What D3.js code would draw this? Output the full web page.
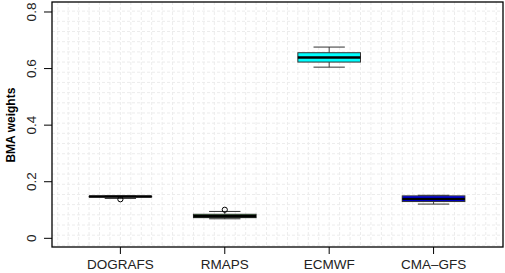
<!DOCTYPE html>
<html>
<head>
<meta charset="utf-8">
<script src="https://cdn.jsdelivr.net/npm/d3@7"></script>
<style>
  body { margin: 0; background: #fff; }
  text { font-family: "Liberation Sans", Arial, sans-serif; }
</style>
</head>
<body>
<div id="chart"></div>
<script>
var models = ["DOGRAFS", "RMAPS", "ECMWF", "CMA\u2013GFS"];
var colors = ["#ff0000", "#008000", "#00ffff", "#0000ff"];
var whiskerLow = [0.141, 0.069, 0.605, 0.121];
var q1 = [0.1465, 0.073, 0.623, 0.130];
var median = [0.1475, 0.078, 0.639, 0.139];
var q3 = [0.1485, 0.085, 0.656, 0.150];
var whiskerHigh = [0.149, 0.095, 0.676, 0.152];
var outliers = [[0.138], [0.101], [], []];
var yTicks = [0, 0.2, 0.4, 0.6, 0.8];

var width = 505, height = 273;
var pLeft = 52, pRight = 503, pTop = 2, pBottom = 247;

var svg = d3.select("#chart").append("svg")
    .attr("width", width)
    .attr("height", height);

var x = d3.scaleLinear().domain([0.345, 4.665]).range([pLeft, pRight]);
var y = d3.scaleLinear().domain([-0.0307, 0.8353]).range([pBottom, pTop]);

// dashed grid
var grid = svg.append("g");
grid.selectAll("line.vg")
    .data(d3.range(0.4, 4.66, 0.1))
    .enter().append("line")
    .attr("class", "vg")
    .attr("x1", function(d){ return x(d); })
    .attr("x2", function(d){ return x(d); })
    .attr("y1", pTop).attr("y2", pBottom)
    .attr("stroke", "#ececec")
    .attr("stroke-dasharray", "3,2");
grid.selectAll("line.hg")
    .data(d3.range(-0.025, 0.835, 0.036))
    .enter().append("line")
    .attr("class", "hg")
    .attr("y1", function(d){ return y(d); })
    .attr("y2", function(d){ return y(d); })
    .attr("x1", pLeft).attr("x2", pRight)
    .attr("stroke", "#ececec")
    .attr("stroke-dasharray", "3,2");

// boxes
var boxes = svg.selectAll("g.box")
    .data(models)
    .enter().append("g")
    .attr("class", "box");

boxes.append("line")
    .attr("x1", function(d, i){ return x(i + 1); })
    .attr("x2", function(d, i){ return x(i + 1); })
    .attr("y1", function(d, i){ return y(whiskerHigh[i]); })
    .attr("y2", function(d, i){ return y(q3[i]); })
    .attr("stroke", "#444");
boxes.append("line")
    .attr("x1", function(d, i){ return x(i + 1); })
    .attr("x2", function(d, i){ return x(i + 1); })
    .attr("y1", function(d, i){ return y(q1[i]); })
    .attr("y2", function(d, i){ return y(whiskerLow[i]); })
    .attr("stroke", "#444");

[whiskerHigh, whiskerLow].forEach(function(arr){
  boxes.append("line")
      .attr("x1", function(d, i){ return x(i + 1 - 0.15); })
      .attr("x2", function(d, i){ return x(i + 1 + 0.15); })
      .attr("y1", function(d, i){ return y(arr[i]); })
      .attr("y2", function(d, i){ return y(arr[i]); })
      .attr("stroke", "#333");
});

boxes.append("rect")
    .attr("x", function(d, i){ return x(i + 1 - 0.3); })
    .attr("width", x(1.3) - x(0.7))
    .attr("y", function(d, i){ return y(q3[i]); })
    .attr("height", function(d, i){ return y(q1[i]) - y(q3[i]); })
    .attr("fill", function(d, i){ return colors[i]; })
    .attr("stroke", "#333")
    .attr("stroke-width", 1);

boxes.append("line")
    .attr("x1", function(d, i){ return x(i + 1 - 0.3); })
    .attr("x2", function(d, i){ return x(i + 1 + 0.3); })
    .attr("y1", function(d, i){ return y(median[i]); })
    .attr("y2", function(d, i){ return y(median[i]); })
    .attr("stroke", "#000")
    .attr("stroke-width", 2.5);

boxes.each(function(d, i){
  d3.select(this).selectAll("circle")
      .data(outliers[i])
      .enter().append("circle")
      .attr("cx", x(i + 1))
      .attr("cy", function(v){ return y(v); })
      .attr("r", 2.6)
      .attr("fill", "none")
      .attr("stroke", "#000");
});

// frame
svg.append("rect")
    .attr("x", pLeft).attr("y", pTop)
    .attr("width", pRight - pLeft).attr("height", pBottom - pTop)
    .attr("fill", "none")
    .attr("stroke", "#000")
    .attr("stroke-width", 1.3);

// y axis
var yAxis = svg.append("g");
yAxis.selectAll("line")
    .data(yTicks)
    .enter().append("line")
    .attr("x1", pLeft - 8).attr("x2", pLeft)
    .attr("y1", function(d){ return y(d); })
    .attr("y2", function(d){ return y(d); })
    .attr("stroke", "#000");
yAxis.selectAll("text")
    .data(yTicks)
    .enter().append("text")
    .attr("transform", function(d){ return "translate(36," + y(d) + ") rotate(-90)"; })
    .attr("text-anchor", "middle")
    .attr("font-size", "13.5px")
    .attr("fill", "#222")
    .text(function(d){ return d === 0 ? "0" : d.toFixed(1); });

svg.append("text")
    .attr("transform", "translate(15," + y(0.4) + ") rotate(-90)")
    .attr("text-anchor", "middle")
    .attr("font-size", "12px")
    .attr("font-weight", "bold")
    .text("BMA weights");

// x axis
var xAxis = svg.append("g");
xAxis.selectAll("line")
    .data(models)
    .enter().append("line")
    .attr("x1", function(d, i){ return x(i + 1); })
    .attr("x2", function(d, i){ return x(i + 1); })
    .attr("y1", pBottom).attr("y2", pBottom + 7)
    .attr("stroke", "#000");
xAxis.selectAll("text")
    .data(models)
    .enter().append("text")
    .attr("x", function(d, i){ return x(i + 1); })
    .attr("y", 269)
    .attr("text-anchor", "middle")
    .attr("font-size", "13.5px")
    .attr("fill", "#222")
    .text(function(d){ return d; });
</script>
</body>
</html>
